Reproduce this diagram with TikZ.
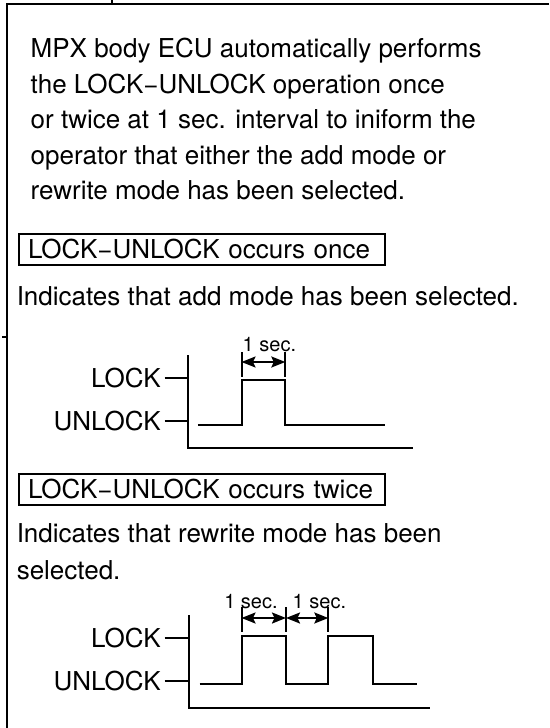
\documentclass[tikz,border=0pt]{standalone}
\usepackage{fontspec}
\setmainfont{TeX Gyre Heros}
\usetikzlibrary{arrows.meta, positioning}

\begin{document}
\begin{tikzpicture}[
  x=1pt, y=-1pt,
  line width=2pt,
  txt/.style={anchor=base west, inner sep=0pt, align=left, font=\fontsize{26}{35.4}\selectfont},
  tag/.style={draw, minimum width=366pt, minimum height=31.6pt, inner xsep=9pt, inner ysep=0pt,
              text width=348pt, align=left, font=\fontsize{26}{30}\selectfont},
  lvl/.style={anchor=base east, inner xsep=2.8pt, inner ysep=0pt, font=\fontsize{26}{30}\selectfont},
  lbl/.style={anchor=base west, inner sep=0pt, font=\fontsize{20}{24}\selectfont},
  dim/.style={{Stealth[length=14pt,width=11pt,inset=2.5pt]}-{Stealth[length=14pt,width=11pt,inset=2.5pt]}, line width=2pt}
]
  \useasboundingbox (0,0) rectangle (549,728);

  % frame
  \draw (549,4) -- (6.7,4) -- (6.7,728);
  \draw (111.7,0) -- (111.7,4);
  \draw (2,337) -- (6.7,337);

  % base of a multi-line node is its last line
  \node[txt] (intro) at (29.7,199.5) {MPX body ECU automatically performs\\
    the LOCK−UNLOCK operation once\\
    or twice at 1 sec. interval to iniform the\\
    operator that either the add mode or\\
    rewrite mode has been selected.};

  % --- once ---
  \node[tag] (onceTag) at (202,249.5) {LOCK−UNLOCK occurs once};
  \node[txt] (onceNote) at (15.75,305.5) {Indicates that add mode has been selected.};

  \coordinate (ax1) at (188,355.3);
  \coordinate (ax1b) at (188,448);
  \coordinate (ax1e) at (413,448);
  \draw (ax1) -- (ax1b) -- (ax1e);
  \node[lvl] (lock1) at (164.5,387.8) {LOCK};
  \node[lvl] (unlock1) at (164.5,430.8) {UNLOCK};
  \draw (lock1.east) -- (lock1.east -| ax1);
  \draw (unlock1.east) -- (unlock1.east -| ax1);
  \draw (197.8,424.6) -- (241.5,424.6) -- (241.5,379.8) -- (285.3,379.8) -- (285.3,424.6) -- (385,424.6);

  \coordinate (d1a) at (241.5,352);
  \coordinate (d1b) at (285.3,352);
  \foreach \c in {d1a,d1b} \draw (\c) -- ++(0,25);
  \draw[dim] ([yshift=-10pt]d1a) -- ([yshift=-10pt]d1b);
  \node[lbl] (sec1) at (241.7,351.7) {1 sec.};

  % --- twice ---
  \node[tag] (twiceTag) at (202,489.4) {LOCK−UNLOCK occurs twice};
  \node[txt, font=\fontsize{26}{36.7}\selectfont] (twiceNote) at (15.75,579) {Indicates that rewrite mode has been\\selected.};

  \coordinate (ax2) at (189,615.3);
  \coordinate (ax2b) at (189,708);
  \coordinate (ax2e) at (429.8,708);
  \draw (ax2) -- (ax2b) -- (ax2e);
  \node[lvl] (lock2) at (164.5,647.8) {LOCK};
  \node[lvl] (unlock2) at (164.5,690.5) {UNLOCK};
  \draw (lock2.east) -- (lock2.east -| ax2);
  \draw (unlock2.east) -- (unlock2.east -| ax2);
  \draw (199.5,683.5) -- (241.5,683.5) -- (241.5,636) -- (286,636) -- (286,683.5)
        -- (328.3,683.5) -- (328.3,636) -- (372.8,636) -- (372.8,683.5) -- (416.5,683.5);

  \coordinate (d2a) at (241.5,607);
  \coordinate (d2b) at (286,607);
  \coordinate (d2c) at (328.3,607);
  \foreach \c in {d2a,d2b,d2c} \draw (\c) -- ++(0,25);
  \foreach \a/\b in {d2a/d2b,d2b/d2c} \draw[dim] ([yshift=-11pt]\a) -- ([yshift=-11pt]\b);
  \node[lbl] (sec2a) at (223.3,608.3) {1 sec.};
  \node[lbl] (sec2b) at (291.7,608.3) {1 sec.};
\end{tikzpicture}
\end{document}
